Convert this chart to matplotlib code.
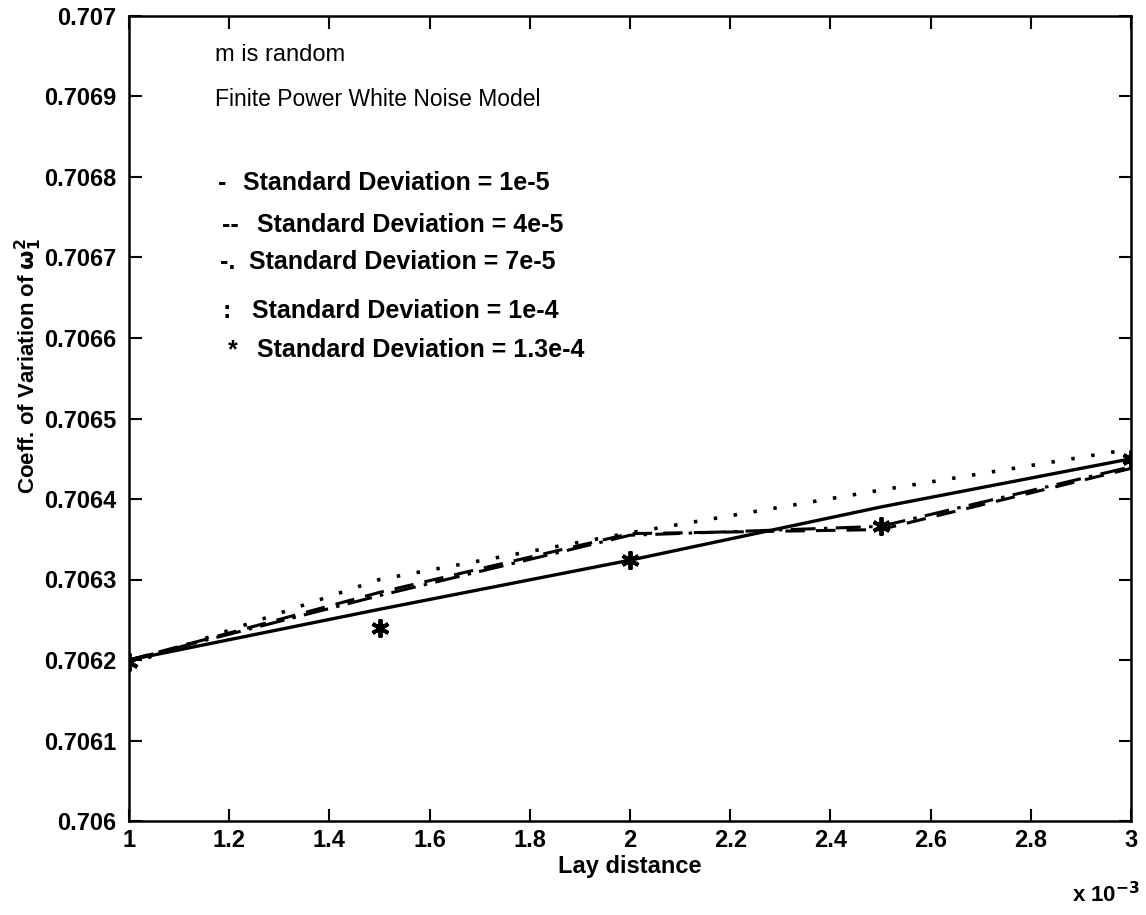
import matplotlib
matplotlib.use('Agg')
import matplotlib.pyplot as plt
from matplotlib.ticker import FuncFormatter

plt.rcParams['font.family'] = ['Liberation Sans', 'DejaVu Sans']
plt.rcParams['lines.scale_dashes'] = False

# lag distance (x 10^-3)
lag = [1.0, 1.5, 2.0, 2.5, 3.0]

# coefficient of variation for each standard deviation
sd_1e5 = [0.70620, 0.706263, 0.706324, 0.706390, 0.70645]
sd_4e5 = [0.70620, 0.706284, 0.706357, 0.706362, 0.706438]
sd_7e5 = [0.70620, 0.706280, 0.706355, 0.706366, 0.706440]
sd_1e4 = [0.706195, 0.706300, 0.706358, 0.706411, 0.706462]
sd_13e4 = [0.706198, 0.706240, 0.706324, 0.706366, 0.706450]

legend_syms = ['-', '--', '-.', ':', '*']
legend_txt = ['Standard Deviation = 1e-5', 'Standard Deviation = 4e-5',
              'Standard Deviation = 7e-5', 'Standard Deviation = 1e-4',
              'Standard Deviation = 1.3e-4']

fig = plt.figure(figsize=(11.46, 9.15), dpi=100)
ax = fig.add_axes([129/1146, 1-821/915, (1131-129)/1146, (821-16)/915])

# lines
ax.plot(lag, sd_1e5, color='black', lw=2.4)
ax.plot(lag, sd_4e5, color='black', lw=2.2, dashes=(14, 8))
ax.plot(lag, sd_7e5, color='black', lw=2.2, dashes=(18, 6, 2.5, 6))
ax.plot(lag, sd_1e4, color='black', lw=2.6, dashes=(2.5, 12))
ax.plot(lag, sd_13e4, ls='none', marker=(6, 2, 0), ms=13, mew=2.8, color='black')

ax.set_xlim(1, 3)
ax.set_ylim(0.706, 0.707)
ax.set_xticks([1, 1.2, 1.4, 1.6, 1.8, 2, 2.2, 2.4, 2.6, 2.8, 3])
ax.set_yticks([0.706 + i * 0.0001 for i in range(11)])
ax.xaxis.set_major_formatter(FuncFormatter(lambda v, p: '%g' % round(v, 1)))
ax.yaxis.set_major_formatter(FuncFormatter(lambda v, p: '%g' % round(v, 4)))
ax.tick_params(direction='in', length=9, width=1.5, top=True, right=True,
               labelsize=17, pad=9)
ax.tick_params(axis='x', pad=6)
for lab in ax.get_xticklabels() + ax.get_yticklabels():
    lab.set_fontweight('bold')
for s in ax.spines.values():
    s.set_linewidth(1.8)

ax.set_xlabel('Lay distance', fontsize=17, fontweight='bold', labelpad=2)
ax.set_ylabel(r'Coeff. of Variation of $\mathbf{\omega_1^2}$', fontsize=16, fontweight='bold')
ax.yaxis.set_label_coords(-0.085, 0.565)
fig.text(1140/1146, 1-895/915, r'x 10$^{\mathbf{-3}}$', fontsize=16, fontweight='bold',
         va='center', ha='right')

# annotations
ax.text(0.086, 0.952, 'm is random', transform=ax.transAxes, fontsize=17, va='center')
ax.text(0.086, 0.896, 'Finite Power White Noise Model', transform=ax.transAxes,
        fontsize=16.5, va='center')

sym_x = [0.089, 0.093, 0.091, 0.093, 0.099]
txt_x = [0.114, 0.128, 0.120, 0.123, 0.128]
row_y = [0.7925, 0.7404, 0.6944, 0.6335, 0.585]
for i in range(5):
    ax.text(sym_x[i], row_y[i], legend_syms[i], transform=ax.transAxes,
            fontsize=18, fontweight='bold', va='center')
    ax.text(txt_x[i], row_y[i], legend_txt[i], transform=ax.transAxes,
            fontsize=18, fontweight='bold', va='center')

fig.savefig('out.png', dpi=100)
